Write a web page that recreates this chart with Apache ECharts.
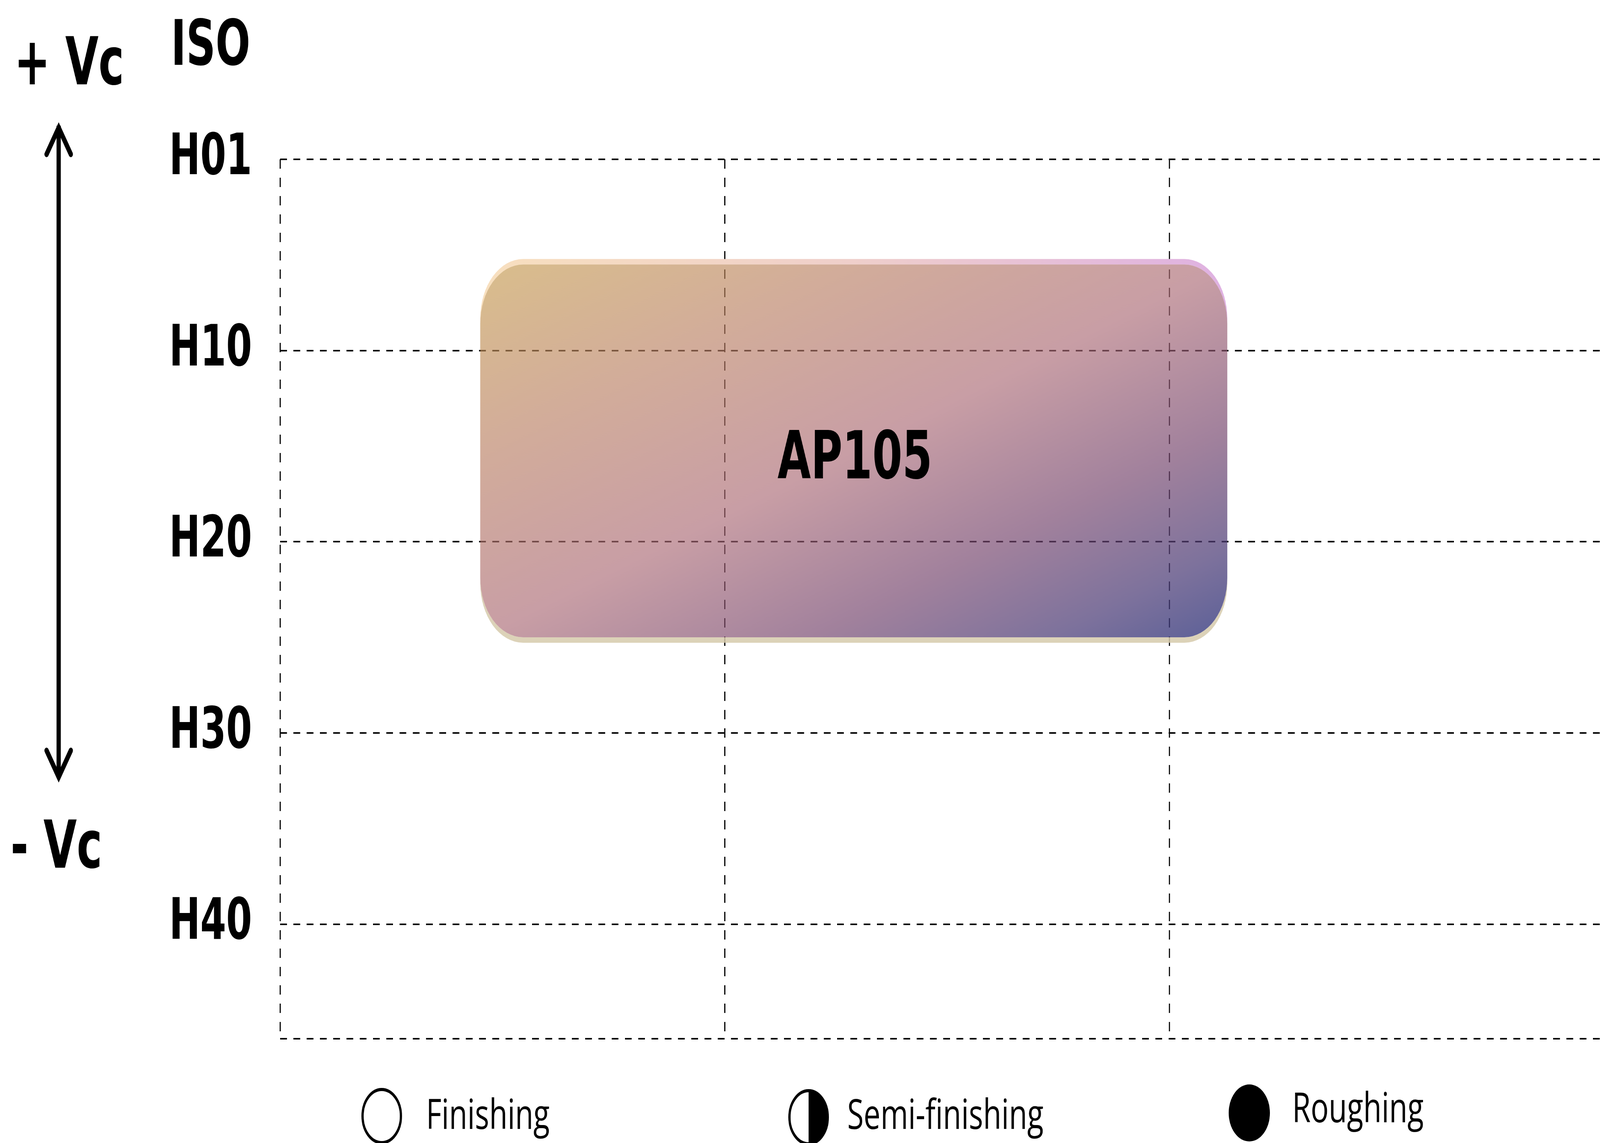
<!DOCTYPE html>
<html><head><meta charset="utf-8">
<script src="https://cdn.jsdelivr.net/npm/echarts@6/dist/echarts.min.js"></script>
<style>
html,body{margin:0;padding:0;background:#fff;overflow:hidden;}
#chart{width:5671px;height:2927px;transform-origin:0 0;}
</style>
</head><body><div id="chart"></div>
<script>
// ---- data ----
const isoGrades = ['H01', 'H10', 'H20', 'H30', 'H40'];
const operations = ['Finishing', 'Semi-finishing', 'Roughing'];
const gradeNames = ['AP105'];
const gradeOpStart = [0.45];   // position along operation columns
const gradeOpEnd = [2.13];
const gradeIsoStart = [0.55];  // position along ISO rows (0 = H01)
const gradeIsoEnd = [2.50];
const speedLabels = ['+ Vc', '- Vc'];
const axisTitle = 'ISO';

// fit the 5671 x 2927 drawing into whatever viewport the browser really has
(function fit() {
  const sx = window.innerWidth / 5671, sy = window.innerHeight / 2927;
  if (Math.abs(sx - 1) > 1e-3 || Math.abs(sy - 1) > 1e-3) {
    document.getElementById('chart').style.transform = 'scale(' + sx + ',' + sy + ')';
  }
})();

// ---- fonts ----
function hasFont(name) {
  const c = document.createElement('canvas').getContext('2d');
  c.font = 'bold 100px monospace';
  const w1 = c.measureText('H01 AP105 Vc').width;
  c.font = "bold 100px '" + name + "', monospace";
  const w2 = c.measureText('H01 AP105 Vc').width;
  return Math.abs(w1 - w2) > 1;
}
const condensed = hasFont('DejaVu Sans Condensed');
const BOLD = condensed ? "'DejaVu Sans Condensed', 'DejaVu Sans', sans-serif" : "'DejaVu Sans', sans-serif";
const LBL = (condensed ? 138 : 124) * 1.06;
const ISO_SIZE = LBL * 1.1;
const BIG = (condensed ? 160 : 146) * 1.06;
const AP_SIZE = BIG * 1.0;
const LEG_FONT = "'Open Sans', 'Noto Sans', sans-serif";
const LEG = 106;

const chart = echarts.init(document.getElementById('chart'), null, { renderer: 'canvas', width: 5671, height: 2927 });

const dashed = { color: '#000', width: 4, type: [24, 23] };

function topCrescent(x0, x1, y0, r, d) {
  return 'M' + x0 + ',' + (y0 - d + r) +
    'A' + r + ',' + r + ' 0 0 1 ' + (x0 + r) + ',' + (y0 - d) +
    'L' + (x1 - r) + ',' + (y0 - d) +
    'A' + r + ',' + r + ' 0 0 1 ' + x1 + ',' + (y0 - d + r) +
    'L' + x1 + ',' + (y0 + r) +
    'A' + r + ',' + r + ' 0 0 0 ' + (x1 - r) + ',' + y0 +
    'L' + (x0 + r) + ',' + y0 +
    'A' + r + ',' + r + ' 0 0 0 ' + x0 + ',' + (y0 + r) + 'Z';
}
function bottomCrescent(x0, x1, y1, r, d) {
  return 'M' + x0 + ',' + (y1 - r) +
    'A' + r + ',' + r + ' 0 0 0 ' + (x0 + r) + ',' + y1 +
    'L' + (x1 - r) + ',' + y1 +
    'A' + r + ',' + r + ' 0 0 0 ' + x1 + ',' + (y1 - r) +
    'L' + x1 + ',' + (y1 - r + d) +
    'A' + r + ',' + r + ' 0 0 1 ' + (x1 - r) + ',' + (y1 + d) +
    'L' + (x0 + r) + ',' + (y1 + d) +
    'A' + r + ',' + r + ' 0 0 1 ' + x0 + ',' + (y1 - r + d) + 'Z';
}

function renderItem(params, api) {
  const p0 = api.coord([api.value(0), api.value(2)]);
  const p1 = api.coord([api.value(1), api.value(3)]);
  const x0 = Math.min(p0[0], p1[0]), x1 = Math.max(p0[0], p1[0]);
  const y0 = Math.min(p0[1], p1[1]), y1 = Math.max(p0[1], p1[1]);
  const w = x1 - x0, h = y1 - y0;
  const r = 152, d = 14;
  // gradient whose iso-lines follow the box's anti-diagonal (TR and BL corners share the mid colour)
  const f = 2 * w * h / (w * w + h * h);
  const gx = h * f / w, gy = w * f / h;
  const name = gradeNames[params.dataIndex];
  return {
    type: 'group',
    children: [
      { type: 'path', shape: { pathData: bottomCrescent(x0, x1, y1, r, d) },
        style: { fill: 'rgba(214,202,172,0.85)' } },
      { type: 'path', shape: { pathData: topCrescent(x0, x1, y0, r, d) },
        style: { fill: new echarts.graphic.LinearGradient(0, 0, 1, 0, [
          { offset: 0, color: '#f8e0bf' }, { offset: 0.5, color: '#efcfcb' }, { offset: 1, color: '#dfb1e2' }]) } },
      { type: 'rect', shape: { x: x0, y: y0, width: w, height: h, r: r },
        style: { fill: new echarts.graphic.LinearGradient(0, 0, gx, gy, [
          { offset: 0, color: 'rgba(198,156,80,0.66)' },
          { offset: 0.25, color: 'rgba(186,128,100,0.65)' },
          { offset: 0.5, color: 'rgba(171,106,117,0.65)' },
          { offset: 0.72, color: 'rgba(118,70,110,0.68)' },
          { offset: 0.88, color: 'rgba(78,62,120,0.73)' },
          { offset: 1, color: 'rgba(50,56,126,0.8)' }]) } },
      { type: 'text', style: { text: name, x: x0 + w / 2 + 4, y: y0 + h / 2 + 26,
        textAlign: 'center', textVerticalAlign: 'middle', align: 'center', verticalAlign: 'middle',
        font: 'bold ' + AP_SIZE + 'px ' + BOLD, fill: '#000' } }
    ]
  };
}

const boxData = gradeNames.map((n, i) => [gradeOpStart[i], gradeOpEnd[i], gradeIsoStart[i], gradeIsoEnd[i]]);

// legend layout (pixels)
const legendIcons = [
  { cx: 1353, cy: 2858, r: 68, kind: 'empty' },
  { cx: 2866, cy: 2861, r: 68, kind: 'half' },
  { cx: 4428, cy: 2850, r: 73, kind: 'full' }
];
const legendTextPos = [[1510, 2861], [3003, 2861], [4580, 2844]];

function txt(text, x, y, align, font) {
  return { type: 'text', style: { text: text, x: x, y: y, textAlign: align, textVerticalAlign: 'middle',
    align: align, verticalAlign: 'middle', font: font, fill: '#000' } };
}

const graphics = [];
legendIcons.forEach((ic, i) => {
  const shape = { cx: ic.cx, cy: ic.cy, r: ic.r };
  if (ic.kind === 'full') {
    graphics.push({ type: 'circle', shape: shape, style: { fill: '#000' } });
  } else {
    graphics.push({ type: 'circle', shape: shape, style: { fill: '#fff', stroke: '#000', lineWidth: 8 } });
    if (ic.kind === 'half') {
      graphics.push({ type: 'sector', shape: { cx: ic.cx, cy: ic.cy, r: ic.r, r0: 0,
        startAngle: -Math.PI / 2, endAngle: Math.PI / 2, clockwise: true }, style: { fill: '#000' } });
    }
  }
  graphics.push(txt(operations[i], legendTextPos[i][0], legendTextPos[i][1], 'left', LEG + 'px ' + LEG_FONT));
});
// speed arrow
const arrowStyle = { stroke: '#000', fill: null, lineWidth: 15, lineCap: 'round', lineJoin: 'miter' };
graphics.push({ type: 'line', shape: { x1: 208, y1: 322, x2: 208, y2: 1992 }, style: { stroke: '#000', lineWidth: 15 } });
graphics.push({ type: 'polyline', shape: { points: [[165, 395], [208, 327], [251, 395]] }, style: arrowStyle });
graphics.push({ type: 'polyline', shape: { points: [[165, 1922], [208, 1990], [251, 1922]] }, style: arrowStyle });
graphics.push(txt(speedLabels[0], 245, 172, 'center', 'bold ' + BIG + 'px ' + BOLD));
graphics.push(txt(speedLabels[1], 200, 2178, 'center', 'bold ' + BIG + 'px ' + BOLD));
graphics.push(txt(axisTitle, 887, 124, 'right', 'bold ' + ISO_SIZE + 'px ' + BOLD));

chart.setOption({
  animation: false,
  backgroundColor: '#fff',
  grid: { left: 993, top: 408, width: 4728, height: 2252, show: false,
          containLabel: false, outerBoundsMode: 'none' },
  xAxis: {
    type: 'value', min: 0, max: operations.length, interval: 1,
    axisLabel: { show: false }, axisLine: { show: false }, axisTick: { show: false },
    splitLine: { show: true, lineStyle: dashed }
  },
  yAxis: {
    type: 'value', inverse: true, min: 0, max: 4.6, interval: 1,
    axisLine: { show: false }, axisTick: { show: false },
    axisLabel: {
      margin: 100, color: '#000', fontSize: LBL, fontWeight: 'bold', fontFamily: BOLD,
      formatter: function (v) { return Number.isInteger(v) && isoGrades[v] ? isoGrades[v] : ''; }
    },
    splitLine: { show: true, lineStyle: dashed }
  },
  series: [{
    type: 'custom', name: 'Grades', renderItem: renderItem, data: boxData,
    encode: { x: [0, 1], y: [2, 3] }, silent: true, clip: false, z: 2
  }],
  graphic: { elements: graphics }
});
</script>
</body></html>
